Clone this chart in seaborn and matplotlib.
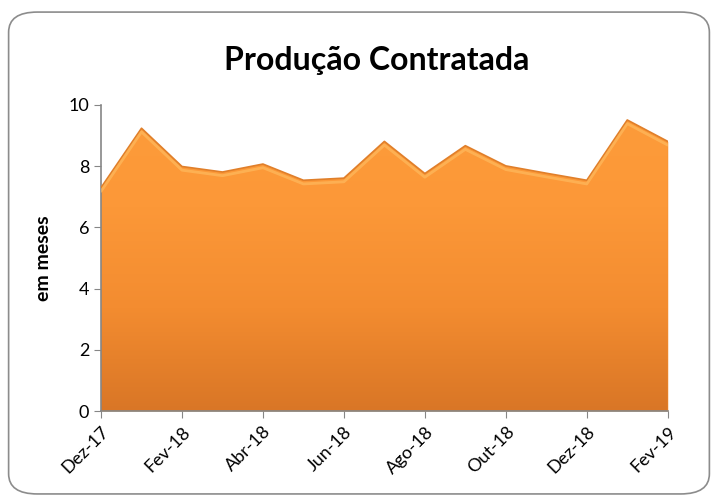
import numpy as np
import matplotlib
matplotlib.use("Agg")
import matplotlib.pyplot as plt
import seaborn as sns
from matplotlib.colors import LinearSegmentedColormap
from matplotlib.patches import FancyBboxPatch

# dados (em meses)
meses = ["Dez-17", "Jan-18", "Fev-18", "Mar-18", "Abr-18", "Mai-18", "Jun-18", "Jul-18",
         "Ago-18", "Set-18", "Out-18", "Nov-18", "Dez-18", "Jan-19", "Fev-19"]
valores = [7.3, 9.24, 7.99, 7.81, 8.07, 7.54, 7.61, 8.81,
           7.76, 8.67, 8.01, 7.77, 7.54, 9.51, 8.81]

sns.set_style("white")
plt.rcParams['font.family'] = ['Lato', 'DejaVu Sans']
plt.rcParams['text.color'] = 'black'
plt.rcParams['axes.labelcolor'] = 'black'
plt.rcParams['xtick.color'] = 'black'
plt.rcParams['ytick.color'] = 'black'

fig = plt.figure(figsize=(7.18, 5.03), dpi=100)
ax = fig.add_axes([0.1407, 0.1829, 0.7893, 0.6084])

# moldura arredondada
frame = FancyBboxPatch((0.012, 0.018), 0.976, 0.958, boxstyle="round,pad=0,rounding_size=0.04",
                       transform=fig.transFigure, fill=False, edgecolor="#8c8c8c", linewidth=1.2)
fig.patches.append(frame)

x = np.arange(len(meses))
area = ax.fill_between(x, valores, 0, color="#f7922f", linewidth=0, zorder=1)

# gradiente dentro da area
cmap = LinearSegmentedColormap.from_list("lar", ["#d97626", "#f38c30", "#fc9838", "#fd9c3a"])
grad = np.linspace(0, 1, 256).reshape(-1, 1)
img = ax.imshow(grad, extent=[0, len(meses) - 1, 0, 10], origin="lower", cmap=cmap,
                aspect="auto", zorder=2)
img.set_clip_path(area.get_paths()[0], transform=ax.transData)

sns.lineplot(x=x, y=valores, color="#e07f2a", linewidth=1.2, ax=ax, zorder=3)
sns.lineplot(x=x, y=[v - 0.12 for v in valores], color="#ffc065", linewidth=2, alpha=0.6, ax=ax, zorder=3)

ax.set_xlim(0, len(meses) - 1)
ax.set_ylim(0, 10)
ax.set_yticks([0, 2, 4, 6, 8, 10])
ax.set_xticks(x[::2])
ax.set_xticklabels(meses[::2], rotation=45, ha="right", rotation_mode="anchor")
ax.tick_params(axis="both", labelsize=13, length=5, color="#868686", direction="out",
               bottom=True, left=True)
ax.tick_params(axis="x", pad=4)
for s in ["top", "right"]:
    ax.spines[s].set_visible(False)
for s in ["left", "bottom"]:
    ax.spines[s].set_color("#868686")
    ax.spines[s].set_linewidth(1.2)

ax.set_ylabel("em meses", fontsize=14, fontweight="bold", labelpad=12)
fig.text(0.525, 0.88, "Produção Contratada", ha="center", va="center",
         fontsize=23, fontweight="bold")

fig.savefig("out.png", dpi=100)
